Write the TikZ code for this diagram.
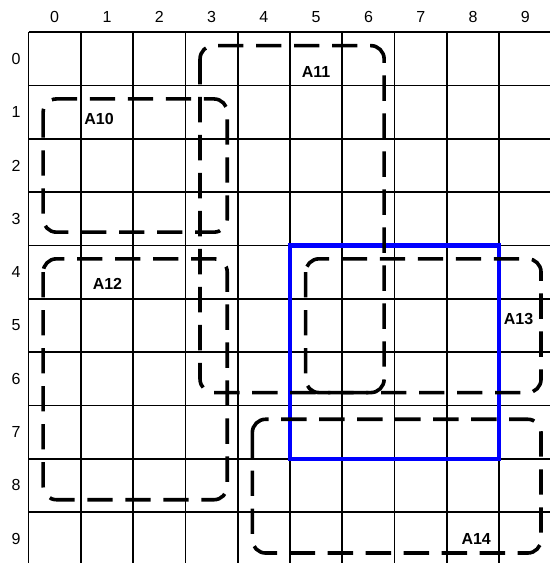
\documentclass[tikz,border=0pt]{standalone}
\usepackage{fontspec}
\setmainfont{Liberation Sans}
\definecolor{selblue}{RGB}{0,0,255}
\tikzset{
    gridline/.style={line width=1.3pt, step=1},
    zone/.style={line width=2.7pt, dash pattern=on 19pt off 9.5pt, rounded corners=10pt},
    selbox/.style={line width=3.2pt, draw=selblue},
    axislabel/.style={font=\fontsize{12}{14}\selectfont},
    zonelabel/.style={font=\bfseries\fontsize{12}{14}\selectfont}
}
\begin{document}
\begin{tikzpicture}[x=39.225pt, y=39.975pt]
    \useasboundingbox (-0.545,0.606) rectangle (9.971,-9.957);
    \clip (-0.545,0.606) rectangle (9.971,-9.957);

    % 1. Luoi 10x10
    \draw[gridline] (0,-10) grid (10,0);

    % 2. So cot (tren) va so hang (ben trai)
    \node[axislabel] (c0) at (0.5,0.28) {0};
    \node[axislabel] (c1) at (1.5,0.28) {1};
    \node[axislabel] (c2) at (2.5,0.28) {2};
    \node[axislabel] (c3) at (3.5,0.28) {3};
    \node[axislabel] (c4) at (4.5,0.28) {4};
    \node[axislabel] (c5) at (5.5,0.28) {5};
    \node[axislabel] (c6) at (6.5,0.28) {6};
    \node[axislabel] (c7) at (7.5,0.28) {7};
    \node[axislabel] (c8) at (8.5,0.28) {8};
    \node[axislabel] (c9) at (9.5,0.28) {9};
    \node[axislabel] (r0) at (-0.24,-0.5) {0};
    \node[axislabel] (r1) at (-0.24,-1.5) {1};
    \node[axislabel] (r2) at (-0.24,-2.5) {2};
    \node[axislabel] (r3) at (-0.24,-3.5) {3};
    \node[axislabel] (r4) at (-0.24,-4.5) {4};
    \node[axislabel] (r5) at (-0.24,-5.5) {5};
    \node[axislabel] (r6) at (-0.24,-6.5) {6};
    \node[axislabel] (r7) at (-0.24,-7.5) {7};
    \node[axislabel] (r8) at (-0.24,-8.5) {8};
    \node[axislabel] (r9) at (-0.24,-9.5) {9};

    % 3. Khung xanh (o 5..8, hang 4..7)
    \draw[selbox] (5,-4) rectangle (9,-8);

    % 4. Cac vung net dut
    % A10
    \draw[zone] (0.28,-1.25) rectangle (3.8,-3.75);
    \node[zonelabel] (a10) at (1.35,-1.62) {A10};
    % A11
    \draw[zone] (3.28,-0.25) rectangle (6.8,-6.76);
    \node[zonelabel] (a11) at (5.5,-0.745) {A11};
    % A12
    \draw[zone] (0.28,-4.25) rectangle (3.8,-8.77);
    \node[zonelabel] (a12) at (1.51,-4.73) {A12};
    % A13
    \draw[zone] (5.3,-4.25) rectangle (9.8,-6.76);
    \node[zonelabel] (a13) at (9.37,-5.37) {A13};
    % A14
    \draw[zone] (4.28,-7.26) rectangle (9.8,-9.77);
    \node[zonelabel] (a14) at (8.56,-9.51) {A14};

\end{tikzpicture}
\end{document}
